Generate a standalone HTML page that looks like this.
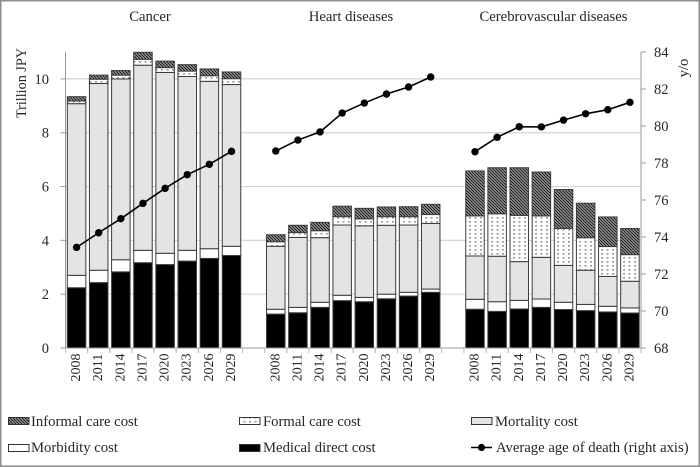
<!DOCTYPE html>
<html lang="en">
<head>
<meta charset="utf-8">
<title>Cost of illness by disease</title>
<style>
html,body{margin:0;padding:0;background:#fff;}
svg{display:block;}
text{font-family:"Liberation Serif",serif;fill:#262626;}
</style>
</head>
<body>
<svg id="chart" xmlns="http://www.w3.org/2000/svg" width="700" height="467" viewBox="0 0 700 467">
<defs>
<pattern id="hatch" width="3" height="3" patternUnits="userSpaceOnUse">
<rect width="3" height="3" fill="#c4c4c4"/>
<path d="M-1,-1 L4,4 M-1,2 L1,4 M2,-1 L4,1" stroke="#1c1c1c" stroke-width="1.3" fill="none"/>
</pattern>
<pattern id="dots" width="5.5" height="4" patternUnits="userSpaceOnUse">
<rect width="5.5" height="4" fill="#fff"/>
<rect x="1.5" y="1" width="2" height="1.6" fill="#9a9a9a"/>
</pattern>
</defs>
<rect x="0.75" y="0.75" width="698.5" height="465.5" fill="#fff" stroke="#8c8c8c" stroke-width="1.5"/>
<g id="grid"></g>
<g id="bars"></g>
<g id="lines"></g>
<g id="axes"></g>

<text x="150" y="21" font-size="14.7" text-anchor="middle">Cancer</text>
<text x="351" y="21" font-size="14.7" text-anchor="middle">Heart diseases</text>
<text x="553.5" y="21" font-size="14.7" text-anchor="middle">Cerebrovascular diseases</text>
<text transform="translate(26,83) rotate(-90)" font-size="14.2" text-anchor="middle">Trillion JPY</text>
<text transform="translate(688,68) rotate(-90)" font-size="14.7" text-anchor="middle">y/o</text>

<g>
<g>
<rect x="8.5" y="417.5" width="20.5" height="7" fill="url(#hatch)" stroke="#333" stroke-width="1"/>
<text x="31" y="426" font-size="14.7">Informal care cost</text>
</g>
<g>
<rect x="239.5" y="417.5" width="20.5" height="7" fill="url(#dots)" stroke="#333" stroke-width="1"/>
<text x="263" y="426" font-size="14.7">Formal care cost</text>
</g>
<g>
<rect x="471.5" y="417.5" width="20.5" height="7" fill="#e4e4e4" stroke="#333" stroke-width="1"/>
<text x="495" y="426" font-size="14.7">Mortality cost</text>
</g>
<g>
<rect x="8.5" y="444.5" width="20.5" height="7" fill="#fff" stroke="#333" stroke-width="1"/>
<text x="31" y="452" font-size="14.7">Morbidity cost</text>
</g>
<g>
<rect x="239.5" y="444.5" width="20.5" height="7" fill="#000" stroke="#333" stroke-width="1"/>
<text x="263" y="452" font-size="14.7">Medical direct cost</text>
</g>
<g>
<line x1="471" y1="447.5" x2="492" y2="447.5" stroke="#000" stroke-width="1.6"/>
<circle cx="481.5" cy="447.5" r="3.6" fill="#000"/>
<text x="496" y="452" font-size="14.7">Average age of death (right axis)</text>
</g>
</g>
</svg>

<script>
var years = ['2008','2011','2014','2017','2020','2023','2026','2029'];
var leftTicks = [0,2,4,6,8,10];
var rightTicks = [68,70,72,74,76,78,80,82,84];

var cancerMedical   = [2.24,2.43,2.83,3.17,3.10,3.23,3.33,3.44];
var cancerMorbidity = [0.46,0.46,0.45,0.46,0.42,0.40,0.36,0.34];
var cancerMortality = [6.38,6.94,6.72,6.88,6.72,6.46,6.22,6.01];
var cancerFormal    = [0.10,0.16,0.14,0.22,0.18,0.20,0.21,0.22];
var cancerInformal  = [0.16,0.15,0.17,0.26,0.24,0.24,0.25,0.25];
var cancerAge       = [73.44,74.23,74.99,75.82,76.63,77.37,77.93,78.63];

var heartMedical    = [1.26,1.31,1.51,1.76,1.72,1.83,1.93,2.07];
var heartMorbidity  = [0.18,0.20,0.19,0.20,0.16,0.17,0.14,0.12];
var heartMortality  = [2.34,2.60,2.40,2.61,2.66,2.56,2.50,2.44];
var heartFormal     = [0.17,0.18,0.26,0.31,0.26,0.32,0.31,0.33];
var heartInformal   = [0.26,0.27,0.31,0.39,0.39,0.36,0.37,0.38];
var heartAge        = [78.65,79.24,79.68,80.70,81.24,81.73,82.11,82.65];

var cerebroMedical   = [1.44,1.36,1.45,1.51,1.43,1.39,1.34,1.30];
var cerebroMorbidity = [0.37,0.36,0.32,0.31,0.27,0.23,0.21,0.19];
var cerebroMortality = [1.61,1.69,1.44,1.55,1.37,1.27,1.11,0.99];
var cerebroFormal    = [1.49,1.58,1.72,1.54,1.37,1.21,1.11,0.99];
var cerebroInformal  = [1.67,1.71,1.77,1.63,1.45,1.28,1.10,0.97];
var cerebroAge       = [78.61,79.39,79.96,79.95,80.32,80.66,80.88,81.28];

var NS = 'http://www.w3.org/2000/svg';
var plotLeft = 65.5, plotRight = 641, plotTop = 52, plotBottom = 348;
var slot = (plotRight - plotLeft) / 26;
var barWidth = 18.5;
var leftMax = 11;
function yLeft(v){ return plotBottom - v / leftMax * (plotBottom - plotTop); }
function yRight(v){ return plotBottom - (v - 68) / 16 * (plotBottom - plotTop); }
function xSlot(i){ return plotLeft + slot * (i + 0.5); }
function make(tag, attrs, parent){
  var el = document.createElementNS(NS, tag);
  for (var k in attrs) el.setAttribute(k, attrs[k]);
  parent.appendChild(el);
  return el;
}

var grid = document.getElementById('grid');
var axes = document.getElementById('axes');
var barsG = document.getElementById('bars');
var linesG = document.getElementById('lines');

leftTicks.forEach(function(t){
  var y = yLeft(t);
  if (t > 0) {
    var g = make('line', {x1:plotLeft, x2:plotRight, y1:y, y2:y, stroke:'#d4d4d4', 'stroke-width':1.2}, grid);
    
    
  }
  var tk = make('line', {x1:plotLeft-5, x2:plotLeft, y1:y, y2:y, stroke:'#999', 'stroke-width':1}, axes);
  
  
  var lb = make('text', {x:49, y:y+5, 'font-size':14.5, 'text-anchor':'end'}, axes);
  
  
  lb.textContent = t;
});

rightTicks.forEach(function(t){
  var y = yRight(t);
  var tk = make('line', {x1:plotRight, x2:plotRight+5, y1:y, y2:y, stroke:'#999', 'stroke-width':1}, axes);
  
  
  var lb = make('text', {x:654, y:y+5, 'font-size':14.5}, axes);
  
  
  lb.textContent = t;
});

var leftAxis = make('line', {x1:plotLeft, x2:plotLeft, y1:plotTop, y2:plotBottom, stroke:'#999', 'stroke-width':1}, axes);


var rightAxis = make('line', {x1:plotRight, x2:plotRight, y1:plotTop, y2:plotBottom, stroke:'#999', 'stroke-width':1}, axes);


var baseAxis = make('line', {x1:plotLeft, x2:plotRight, y1:plotBottom, y2:plotBottom, stroke:'#999', 'stroke-width':1}, axes);



function drawPanel(name, startSlot, medical, morbidity, mortality, formal, informal, age){
  var layers = [
    {key:'medical', vals:medical, fill:'#000'},
    {key:'morbidity', vals:morbidity, fill:'#fff'},
    {key:'mortality', vals:mortality, fill:'#e4e4e4'},
    {key:'formal', vals:formal, fill:'url(#dots)'},
    {key:'informal', vals:informal, fill:'url(#hatch)'}
  ];
  years.forEach(function(year, i){
    var cx = xSlot(startSlot + i), cum = 0;
    layers.forEach(function(layer){
      var v = layer.vals[i];
      var top = yLeft(cum + v), bot = yLeft(cum);
      var r = make('rect', {x:cx-barWidth/2, y:top, width:barWidth, height:bot-top, fill:layer.fill, stroke:'#3c3c3c', 'stroke-width':1}, barsG);
      
      
      cum += v;
    });
    var tk = make('line', {x1:cx-slot/2, x2:cx-slot/2, y1:plotBottom, y2:plotBottom+5, stroke:'#bbb', 'stroke-width':1}, axes);
    
    
    var tk2 = make('line', {x1:cx+slot/2, x2:cx+slot/2, y1:plotBottom, y2:plotBottom+5, stroke:'#bbb', 'stroke-width':1}, axes);
    
    
    var lb = make('text', {transform:'translate('+(cx+3.5)+',367.5) rotate(-90)', 'font-size':14, 'text-anchor':'middle'}, axes);
    
    
    lb.textContent = year;
  });
  var pts = age.map(function(v, i){ return xSlot(startSlot + i) + ',' + yRight(v); }).join(' ');
  var pl = make('polyline', {points:pts, fill:'none', stroke:'#000', 'stroke-width':1.6}, linesG);
  
  
  age.forEach(function(v, i){
    var c = make('circle', {cx:xSlot(startSlot + i), cy:yRight(v), r:3.7, fill:'#000'}, linesG);
    
    
  });
}

drawPanel('cancer', 0, cancerMedical, cancerMorbidity, cancerMortality, cancerFormal, cancerInformal, cancerAge);
drawPanel('heart', 9, heartMedical, heartMorbidity, heartMortality, heartFormal, heartInformal, heartAge);
drawPanel('cerebrovascular', 18, cerebroMedical, cerebroMorbidity, cerebroMortality, cerebroFormal, cerebroInformal, cerebroAge);
</script>
</body>
</html>
